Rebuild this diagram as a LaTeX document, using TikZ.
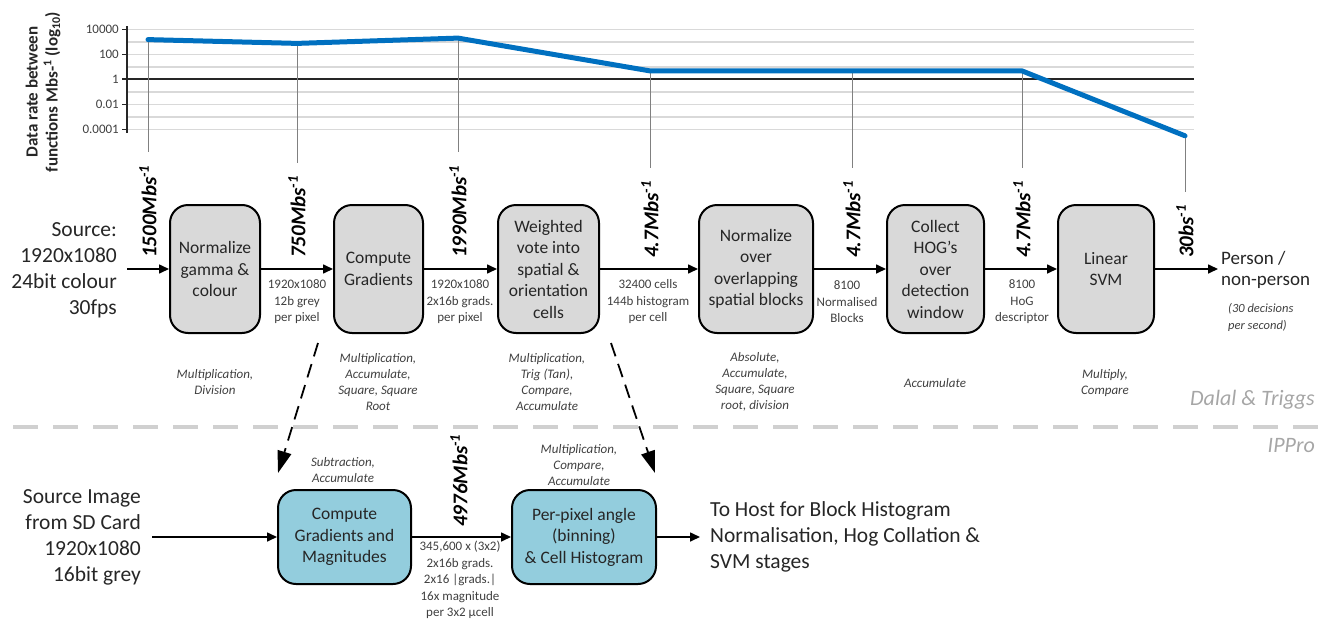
\documentclass[tikz,border=0pt]{standalone}
\usepackage{fontspec}
\setmainfont{Carlito}
\usetikzlibrary{arrows.meta}
\definecolor{curveblue}{HTML}{0070C0}
\definecolor{boxgray}{HTML}{D9D9D9}
\definecolor{boxcyan}{HTML}{93CDDD}
\definecolor{gridgray}{HTML}{D9D9D9}
\definecolor{txtdark}{HTML}{262626}
\definecolor{txtsmall}{HTML}{404040}
\definecolor{sepgray}{HTML}{D0D0D0}
\definecolor{faint}{HTML}{A6A6A6}
\tikzset{
 gbox/.style={draw=black, line width=2pt, rounded corners=18pt, fill=boxgray, align=center, inner sep=0pt, font=\fontsize{17.5}{21.5}\selectfont, text=txtdark},
 cbox/.style={gbox, fill=boxcyan},
 bigtext/.style={font=\fontsize{21.5}{26}\selectfont, text=txtdark, inner sep=0pt},
 smalllbl/.style={align=center, font=\fontsize{13}{16.5}\selectfont, text=txtsmall, inner sep=0pt},
 ops/.style={align=center, font=\fontsize{13}{16}\selectfont\itshape, text=txtsmall, inner sep=0pt},
 rate/.style={rotate=90, anchor=west, inner sep=0pt, font=\fontsize{21}{21}\selectfont\bfseries\itshape, text=black},
 flow/.style={line width=1.6pt, -{Triangle[length=10pt,width=9pt]}},
 tickline/.style={line width=0.8pt, color=gray},
 gridline/.style={line width=1.4pt, color=gridgray},
 dasharrow/.style={line width=1.8pt, dash pattern=on 14pt off 8pt, -{Triangle[length=22pt,width=14pt]}},
 tag/.style={font=\fontsize{22}{22}\selectfont\itshape, text=faint, inner sep=0pt, anchor=east},
 ylab/.style={font=\fontsize{13}{13}\selectfont, text=txtsmall, inner sep=0pt, anchor=east},
}
\begin{document}
\begin{tikzpicture}[x=1pt,y=-1pt]
\useasboundingbox (0,0) rectangle (1327,621);
% ---------- chart ----------
\foreach \k in {0,...,8} {
  \draw[gridline] (127,29.3+12.5*\k) -- (1194,29.3+12.5*\k);
}
\draw[line width=2pt, color=txtdark] (122,79.3) -- (1194,79.3);
\draw[line width=2pt, color=txtdark] (127,26) -- (127,133);
\foreach \yy/\lab in {29.3/10000, 54.3/100, 79.3/1, 104.3/0.01, 129.3/0.0001} {
  \draw[line width=1.2pt, color=txtdark] (122,\yy) -- (127,\yy);
  \node[ylab] at (119,\yy) {\lab};
}
\node[rotate=90, align=center, inner sep=0pt, font=\fontsize{17}{20}\selectfont\bfseries, text=txtdark] (ytitle) at (43,92)
  {Data rate between\\functions Mbs-\textsuperscript{1} (log\textsubscript{10})};

\coordinate (p1) at (148,39.6);
\coordinate (p2) at (297,43.4);
\coordinate (p3) at (458,38.1);
\coordinate (p4) at (650,70.9);
\coordinate (p5) at (852,70.9);
\coordinate (p6) at (1022,70.9);
\coordinate (p7) at (1185,135.8);

\node[rate] (r1) at (148,258) {1500Mbs\textsuperscript{-1}};
\node[rate] (r2) at (297,258) {750Mbs\textsuperscript{-1}};
\node[rate] (r3) at (458,258) {1990Mbs\textsuperscript{-1}};
\node[rate] (r4) at (650,258) {4.7Mbs\textsuperscript{-1}};
\node[rate] (r5) at (852,258) {4.7Mbs\textsuperscript{-1}};
\node[rate] (r6) at (1022,258) {4.7Mbs\textsuperscript{-1}};
\node[rate] (r7) at (1185,258) {30bs\textsuperscript{-1}};

\foreach \i in {1,...,7} {
  \draw[tickline] (p\i) -- ([yshift=13pt]r\i.east);
}
\draw[curveblue, line width=5pt, line join=round, line cap=round]
  (p1) -- (p2) -- (p3) -- (p4) -- (p5) -- (p6) -- (p7);

% ---------- Dalal & Triggs row ----------
\node[bigtext, align=right, anchor=east] (src) at (117,270) {Source:\\1920x1080\\24bit colour\\30fps};

\node[gbox, minimum width=90pt, minimum height=128pt] (b1) at (215,269) {Normalize\\gamma \&\\colour};
\node[gbox, minimum width=89pt, minimum height=128pt] (b2) at (378.5,269) {Compute\\Gradients};
\node[gbox, minimum width=101pt, minimum height=128pt] (b3) at (548.5,269) {Weighted\\vote into\\spatial \&\\orientation\\cells};
\node[gbox, minimum width=114pt, minimum height=128pt] (b4) at (756,269) {Normalize\\over\\overlapping\\spatial blocks};
\node[gbox, minimum width=97pt, minimum height=128pt] (b5) at (935.5,269) {Collect\\HOG’s\\over\\detection\\window};
\node[gbox, minimum width=96pt, minimum height=128pt] (b6) at (1106,269) {Linear\\SVM};

\node[inner sep=0pt, align=left, anchor=west, font=\fontsize{19}{21}\selectfont, text=txtdark] (out) at (1221,269.5) {Person /\\non-person};
\node[inner sep=0pt, align=left, anchor=west, font=\fontsize{12.5}{17}\selectfont\itshape, text=txtsmall] (outnote) at (1228,317.5) {(30 decisions\\per second)};

\coordinate (s1) at (127,269);
\draw[flow] (s1) -- (b1.west);
\draw[flow] (b1) -- (b2);
\draw[flow] (b2) -- (b3);
\draw[flow] (b3) -- (b4);
\draw[flow] (b4) -- (b5);
\draw[flow] (b5) -- (b6);
\draw[flow] (b6.east) -- ([xshift=-3pt]out.west |- b6.east);

\node[smalllbl] (l1) at (297,302) {1920x1080\\12b grey\\per pixel};
\node[smalllbl] (l2) at (460,302) {1920x1080\\2x16b grads.\\per pixel};
\node[smalllbl] (l3) at (648,302) {32400 cells\\144b histogram\\per cell};
\node[smalllbl] (l4) at (847,302) {8100\\Normalised\\Blocks};
\node[smalllbl] (l5) at (1022,302) {8100\\HoG\\descriptor};

\node[ops] (o1) at (215,382) {Multiplication,\\Division};
\node[ops] (o2) at (378,382) {Multiplication,\\Accumulate,\\Square, Square\\Root};
\node[ops] (o3) at (547,382) {Multiplication,\\Trig (Tan),\\Compare,\\Accumulate};
\node[ops] (o4) at (755,382) {Absolute,\\Accumulate,\\Square, Square\\root, division};
\node[ops] (o5) at (935,383) {Accumulate};
\node[ops] (o6) at (1105,383) {Multiply,\\Compare};

\node[tag] (dt) at (1315,400) {Dalal \& Triggs};

% ---------- separator ----------
\draw[line width=4pt, color=sepgray, dash pattern=on 25pt off 15pt] (13,427) -- (1320,427);
\node[tag] (ip) at (1315,446) {IPPro};

% ---------- IPPro row ----------
\node[bigtext, align=right, anchor=east] (src2) at (141,537) {Source Image\\from SD Card\\1920x1080\\16bit grey};
\node[cbox, minimum width=133pt, minimum height=94pt] (c1) at (344.5,537) {Compute\\Gradients and\\Magnitudes};
\node[cbox, minimum width=144pt, minimum height=94pt] (c2) at (584,537) {Per-pixel angle\\(binning)\\\& Cell Histogram};
\node[bigtext, align=left, anchor=west] (host) at (710,537) {To Host for Block Histogram\\Normalisation, Hog Collation \&\\SVM stages};

\coordinate (s2) at (152,537);
\draw[flow] (s2) -- (c1.west);
\draw[flow] (c1) -- (c2);
\draw[flow] (c2.east) -- ([xshift=-10pt]host.west);

\node[rate] (r8) at (459,527) {4976Mbs\textsuperscript{-1}};
\node[smalllbl] (l6) at (460,580) {345,600 x (3x2)\\2x16b grads.\\2x16 |grads.|\\16x magnitude\\per 3x2 µcell};
\node[ops] (o7) at (343,470.5) {Subtraction,\\Accumulate};
\node[ops] (o8) at (579,465) {Multiplication,\\Compare,\\Accumulate};

% ---------- dashed mapping arrows ----------
\coordinate (d1s) at (318,343);
\coordinate (d1e) at (278,473);
\coordinate (d2s) at (611,343);
\coordinate (d2e) at (655,473);
\draw[dasharrow] (d1s) -- (d1e);
\draw[dasharrow] (d2s) -- (d2e);
\end{tikzpicture}
\end{document}
